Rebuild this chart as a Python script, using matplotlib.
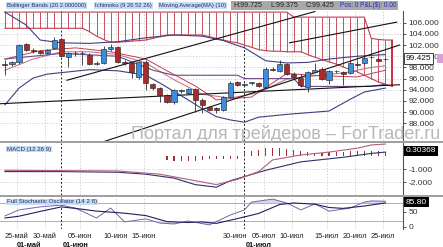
import numpy as np
import pandas as pd
import matplotlib
matplotlib.use('Agg')
import matplotlib.pyplot as plt

# daily bars Sun-Fri
dates = pd.bdate_range('2016-05-23', '2016-07-25', freq='C',
                       weekmask='Sun Mon Tue Wed Thu Fri')

opens = [98.6, 98.6, 98.9, 102.2, 101.1, 100.9, 100.6, 101.5, 103.1, 99.9,
         100.6, 100.5, 100.3, 98.7, 98.8, 101.3, 101.7, 99.0, 98.8, 96.3,
         99.0, 95.0, 94.3, 93.1, 91.8, 93.8, 93.4, 94.1, 92.2, 90.9,
         90.7, 90.4, 92.7, 95.4, 94.9, 95.2, 95.2, 94.5, 97.7, 97.4,
         98.6, 96.8, 96.1, 94.5, 97.2, 97.7, 95.8, 97.4, 97.2, 97.0,
         98.6, 98.8, 99.8, 99.5, 99.5]
highs = [99.3, 99.2, 102.2, 102.4, 101.5, 101.1, 101.3, 103.4, 103.3, 100.8,
         100.9, 100.9, 100.6, 99.1, 101.8, 102.2, 101.9, 99.3, 99.0, 99.2,
         99.3, 95.3, 94.5, 93.3, 94.2, 94.1, 94.4, 94.4, 92.5, 91.1,
         90.9, 92.9, 95.6, 95.6, 95.3, 95.4, 95.4, 98.0, 98.0, 99.4,
         98.8, 97.1, 96.9, 97.4, 98.8, 98.0, 97.6, 97.6, 97.4, 99.0,
         99.0, 100.0, 100.1, 99.7, 99.725]
lows = [96.6, 98.3, 98.7, 100.9, 100.5, 100.4, 100.4, 101.3, 99.9, 98.1,
        100.1, 98.4, 98.4, 98.4, 98.6, 101.0, 98.8, 98.5, 96.1, 96.0,
        93.9, 94.0, 91.8, 91.6, 91.5, 93.4, 93.2, 90.0, 89.8, 90.2,
        89.9, 90.2, 92.5, 94.6, 94.5, 94.9, 94.5, 94.3, 97.3, 97.2,
        96.6, 95.9, 94.5, 93.6, 97.0, 95.8, 95.0, 97.0, 94.8, 96.8,
        98.3, 98.6, 99.6, 99.1, 99.375]
closes = [98.4, 98.9, 102.0, 101.1, 100.9, 100.6, 101.1, 102.9, 100.0, 100.6,
          100.5, 100.6, 98.6, 98.8, 101.3, 101.6, 99.0, 98.8, 97.2, 98.9,
          95.2, 94.3, 93.1, 91.8, 94.0, 93.8, 94.1, 92.2, 91.3, 90.4,
          90.3, 92.7, 95.2, 94.85, 95.1, 95.2, 94.7, 97.7, 97.5, 98.7,
          96.8, 96.2, 94.8, 97.2, 97.5, 95.9, 97.4, 97.3, 96.9, 98.8,
          98.5, 99.7, 99.9, 99.2, 99.425]

# ichimoku cloud, one value per bar (shifted 26 ahead, so one bar past the last candle)
cloud_top = [107.9] * 41 + [107.0] * 11 + [103.2, 103.0, 102.9, 102.9]
cloud_bot = [105.0] * 12 + [104.4, 103.6, 103.0, 102.5, 102.5, 102.6, 102.7, 102.8,
             102.9, 103.2, 103.5, 103.8, 103.8, 103.8, 103.8, 103.8, 103.8, 103.5,
             103.2, 102.9, 102.6, 102.4, 102.0, 101.6, 101.2, 101.0, 100.9, 100.9,
             100.8, 100.8, 100.8, 100.3, 99.8, 99.4, 99.0, 98.6, 98.1, 97.6,
             97.2, 96.6, 96.0, 95.4, 95.0, 94.6]

# ichimoku tenkan / kijun
tk_bars = [0, 5, 10, 15, 20, 23, 27, 30, 35, 40, 45, 50, 54]
tenkan = [99.5, 101.0, 101.5, 100.8, 99.5, 97.4, 94.7, 92.2, 92.7, 96.9,
          96.5, 96.3, 97.5]
kj_bars = [0, 8, 16, 21, 24, 33, 34, 41, 42, 52, 54]
kijun = [99.5, 100.5, 100.0, 97.5, 96.6, 96.6, 96.0, 96.0, 94.6, 94.6, 95.0]

# bollinger bands (20, 2)
bbu_bars = [0, 3, 5, 8, 12, 16, 20, 24, 28, 31, 34, 37, 40, 43, 46, 50, 54]
bb_upper = [107.9, 105.6, 102.9, 102.4, 102.3, 102.6, 103.3, 103.8, 103.6,
            102.8, 101.5, 99.2, 98.8, 98.9, 99.5, 100.0, 100.3]
bbl_bars = [0, 2, 4, 6, 9, 12, 16, 20, 22, 24, 26, 28, 30, 32, 34, 36, 40,
            46, 49, 51, 54]
bb_lower = [91.3, 94.3, 96.1, 96.8, 97.2, 97.6, 97.4, 96.6, 95.2, 93.7, 92.2,
            90.6, 89.2, 88.6, 88.2, 89.1, 89.6, 90.2, 92.3, 93.6, 94.3]

# moving average (10)
ma_bars = [0, 4, 8, 12, 16, 20, 24, 28, 32, 36, 40, 44, 48, 52, 54]
ma10 = [97.5, 99.5, 100.8, 100.8, 100.3, 98.8, 95.8, 93.2, 92.5, 93.5,
        95.9, 96.5, 97.0, 98.0, 98.3]

# trend lines drawn on the chart: (bar, price) pairs
trend_lines = [((8.8, 95.7), (44.0, 108.0)),
               ((14.2, 84.8), (56.0, 102.0)),
               ((40.4, 102.4), (55.6, 106.1)),
               ((-0.7, 91.5), (56.0, 94.9))]

# MACD (12 26 9)
macd_bars = [0, 8, 16, 20, 24, 27, 30, 32, 37, 42, 48, 52, 54]
macd_line = [-1.2, -1.2, -1.25, -1.4, -1.7, -2.2, -2.4, -1.9, -1.1, -0.45,
             -0.1, 0.2, 0.30]
sig_bars = [0, 16, 22, 27, 30, 33, 36, 38, 42, 46, 50, 52, 54]
sig_line = [-1.1, -1.15, -1.4, -1.9, -2.2, -1.8, -1.2, -0.3, 0.08, 0.3,
            0.6, 0.85, 0.92]
hist_bars = list(range(23, 55))
hist = [-0.3, -0.35, -0.4, -0.4, -0.35, -0.3, -0.25, -0.2, -0.2, -0.2, -0.2,
        0.2, 0.4, 0.5, 0.6, 0.6, 0.6, 0.55, 0.45, 0.35, 0.3, 0.25, 0.25, 0.3,
        0.3, 0.3, 0.35, 0.4, 0.4, 0.4, 0.35, 0.3]

# full stochastic (14 2 8)
stk_bars = [0, 2, 5, 8, 10, 13, 15, 17, 20, 22, 24, 26, 29, 32, 34, 35, 38,
            40, 42, 44, 46, 49, 51, 52, 54]
stoch_k = [37, 57, 67, 73, 63, 30, 63, 17, 27, 13, 10, 20, 7, 40, 57, 83, 93,
           80, 57, 77, 53, 63, 83, 87, 85.8]
std_bars = [0, 2, 5, 8, 10, 13, 17, 20, 23, 26, 28, 30, 33, 36, 39, 41, 44,
            46, 48, 51, 54]
stoch_d = [30, 36, 52, 67, 62, 53, 46, 38, 18, 15, 17, 12, 28, 45, 75, 80,
           76, 65, 62, 70, 80]

tick_dates = ['2016-05-25', '2016-05-30', '2016-06-05', '2016-06-10', '2016-06-15',
              '2016-06-30', '2016-07-05', '2016-07-10', '2016-07-15', '2016-07-20',
              '2016-07-25']
tick_labels = ['25-май', '30-май', '05-июн', '10-июн', '15-июн', '30-июн',
               '05-июл', '10-июл', '15-июл', '20-июл', '25-июл']
month_dates = ['2016-06-01', '2016-07-01']
month_labels = ['01-июн', '01-июл']

W, H = 443, 247
plt.rcParams['font.family'] = ['Liberation Sans', 'DejaVu Sans']
fig = plt.figure(figsize=(W / 100, H / 100), dpi=100)

x = np.arange(len(dates))
tick_x = [dates.get_loc(pd.Timestamp(d)) for d in tick_dates]
month_x = [dates.get_loc(pd.Timestamp(d)) for d in month_dates]
grid_c = '#c8c8c8'


def panel(y0, y1):
    a = fig.add_axes([0, 1 - y1 / H, 403 / W, (y1 - y0) / H])
    a.set_xlim(-0.7, 56.5)
    for s in ('left', 'top', 'bottom'):
        a.spines[s].set_visible(False)
    a.spines['right'].set_color('#555555')
    a.spines['right'].set_linewidth(0.8)
    a.yaxis.tick_right()
    a.tick_params(axis='y', labelsize=6, colors='#333333', length=2.5,
                  width=0.6, pad=1.5)
    a.tick_params(axis='x', bottom=False, labelbottom=False)
    for t in tick_x:
        a.axvline(t - 0.3, color=grid_c, lw=0.6, ls=(0, (1.5, 2)), zorder=0)
    for m in month_x:
        a.axvline(m, color='#222222', lw=0.7, ls=(0, (2, 2)), zorder=1)
    return a


# ---- main panel
ax = panel(11, 141)
ax.set_ylim(106 - (141 - 22.7) / 5.59, 106 + (22.7 - 11) / 5.59)
ax.set_yticks(np.arange(88, 107, 2))
ax.set_yticklabels(['%.3f' % v for v in np.arange(88, 107, 2)])
for v in np.arange(88, 107, 2):
    ax.axhline(v, color=grid_c, lw=0.6, ls=(0, (1.5, 2)), zorder=0)

cx = np.arange(len(cloud_top))
ax.vlines(cx, cloud_bot, cloud_top, color='#c85060', lw=0.7, zorder=1)
ax.plot(cx, cloud_top, color='#c04050', lw=0.8, zorder=1)
ax.plot(cx, cloud_bot, color='#c04050', lw=0.8, zorder=1)
ax.vlines(cx[-1], cloud_bot[-1], cloud_top[-1], color='#d03040', lw=1.4, zorder=1)

ax.plot(bbu_bars, bb_upper, color='#404080', lw=0.8, zorder=2)
ax.plot(bbl_bars, bb_lower, color='#404080', lw=0.8, zorder=2)
ax.plot(ma_bars, ma10, color='#c87890', lw=0.8, zorder=2)
ax.plot(tk_bars, tenkan, color='#c04050', lw=0.7, zorder=2)
ax.plot(kj_bars, kijun, color='#6a4a8a', lw=0.8, zorder=2)
for (x0, y0), (x1, y1) in trend_lines:
    ax.plot([x0, x1], [y0, y1], color='#111111', lw=0.8, zorder=3)

o = np.array(opens); c = np.array(closes)
up = c >= o
ax.vlines(x, lows, highs, color='#303030', lw=0.6, zorder=4)
body = np.maximum(np.abs(c - o), 0.12)
ax.bar(x[up], body[up], bottom=o[up], width=0.72, color='#3a8ee0',
       edgecolor='#1a1a1a', lw=0.4, zorder=5)
ax.bar(x[~up], body[~up], bottom=c[~up], width=0.72, color='#a82a2a',
       edgecolor='#1a1a1a', lw=0.4, zorder=5)

# ---- MACD panel
axm = panel(143, 195)
axm.set_ylim(-3.0, 1.0)
axm.set_yticks([-1, -2])
axm.set_yticklabels(['-1.000', '-2.000'])
for v in (-1, -2):
    axm.axhline(v, color=grid_c, lw=0.6, ls=(0, (1.5, 2)), zorder=0)
axm.bar(hist_bars, hist, width=0.15, color='#a03030', zorder=2)
axm.plot(macd_bars, macd_line, color='#303070', lw=0.8, zorder=3)
axm.plot(sig_bars, sig_line, color='#b06080', lw=0.8, zorder=3)

# ---- stochastic panel
axs = panel(197, 229)
axs.set_ylim(-6.7, 100)
axs.set_yticks([0, 50, 100])
axs.set_yticklabels(['0', '50', '100'])
for v in (20, 80):
    axs.axhline(v, color='#b0b0b0', lw=0.7, zorder=0)
sk = np.array(stoch_k, dtype=float)
axs.fill_between(stk_bars, sk, 20, where=sk < 20, interpolate=True,
                 color='#d4d8e8', lw=0, zorder=1)
axs.fill_between(stk_bars, sk, 80, where=sk > 80, interpolate=True,
                 color='#d4d8e8', lw=0, zorder=1)
axs.plot(stk_bars, stoch_k, color='#8060a8', lw=0.7, zorder=3)
axs.plot(std_bars, stoch_d, color='#202060', lw=0.8, zorder=3)

# date labels
for t, lab in zip(tick_x, tick_labels):
    axs.text(t - 0.3, -0.22, lab, transform=axs.get_xaxis_transform(),
             ha='center', va='center', fontsize=5.3, color='#222222')
for m, lab in zip(month_x, month_labels):
    axs.text(m + 0.2, -0.5, lab, transform=axs.get_xaxis_transform(),
             ha='left', va='center', fontsize=5.3, color='#111111', weight='bold')
axs.text(1.7, -0.5, '01-май', transform=axs.get_xaxis_transform(),
         ha='left', va='center', fontsize=5.3, color='#111111', weight='bold')

# panel separators
for y0 in (141, 195):
    fig.add_artist(plt.Rectangle((0, 1 - (y0 + 2) / H), 1, 2 / H,
                                 transform=fig.transFigure, color='#a0a0a0', lw=0))


def fx(px):
    return px / W


def fy(py):
    return 1 - py / H


lab_box = dict(boxstyle='square,pad=0.15', fc='#c8dcf4', ec='none')
fig.text(fx(7), fy(5.5), 'Bollinger Bands (20 2.000000)', fontsize=4.2, color='#203060',
         va='center', bbox=lab_box)
fig.text(fx(95), fy(5.5), 'Ichimoku (9 26 52 26)', fontsize=4.2, color='#203060',
         va='center', bbox=lab_box)
fig.text(fx(159), fy(5.5), 'Moving Average(MA) (10)', fontsize=4.2, color='#203060',
         va='center', bbox=lab_box)
fig.add_artist(plt.Rectangle((fx(231), fy(10)), fx(167), 9 / H,
                             transform=fig.transFigure, color='#a9a9a9', lw=0))
fig.text(fx(233), fy(5.5), 'H:99.725', fontsize=5, color='#202020', va='center')
fig.text(fx(270), fy(5.5), 'L:99.375', fontsize=5, color='#202020', va='center')
fig.text(fx(306), fy(5.5), 'C:99.425', fontsize=5, color='#202020', va='center')
fig.text(fx(340), fy(5.5), 'Pos: 0 P&L($): 0.00', fontsize=4.7, color='#1c2cc8',
         va='center')

fig.text(fx(7), fy(149), 'MACD (12 26 9)', fontsize=4.4, color='#203060', va='center',
         bbox=lab_box)
fig.text(fx(7), fy(202), 'Full Stochastic Oscillator (14 2 8)', fontsize=4.4,
         color='#203060', va='center', bbox=lab_box)

# watermark
fig.text(fx(131), fy(134), 'Портал для трейдеров – ForTrader.ru', fontsize=13,
         color='#b8b8b8', va='center', ha='left', zorder=10)

# value tags on the right axis
fig.text(fx(406), fy(58.5), '99.425', fontsize=6, color='#111111', va='center',
         bbox=dict(boxstyle='square,pad=0.2', fc='white', ec='#222222', lw=0.6))
fig.add_artist(plt.Rectangle((fx(437), fy(63)), fx(6), 9 / H,
                             transform=fig.transFigure, color='#d8a0d8', lw=0))
fig.text(fx(406), fy(151), '0.30368', fontsize=6, color='white', va='center',
         bbox=dict(boxstyle='square,pad=0.2', fc='black', ec='none'))
fig.text(fx(406), fy(202), '85.80', fontsize=6, color='white', va='center',
         bbox=dict(boxstyle='square,pad=0.2', fc='black', ec='none'))

fig.savefig('out.png', dpi=100)
